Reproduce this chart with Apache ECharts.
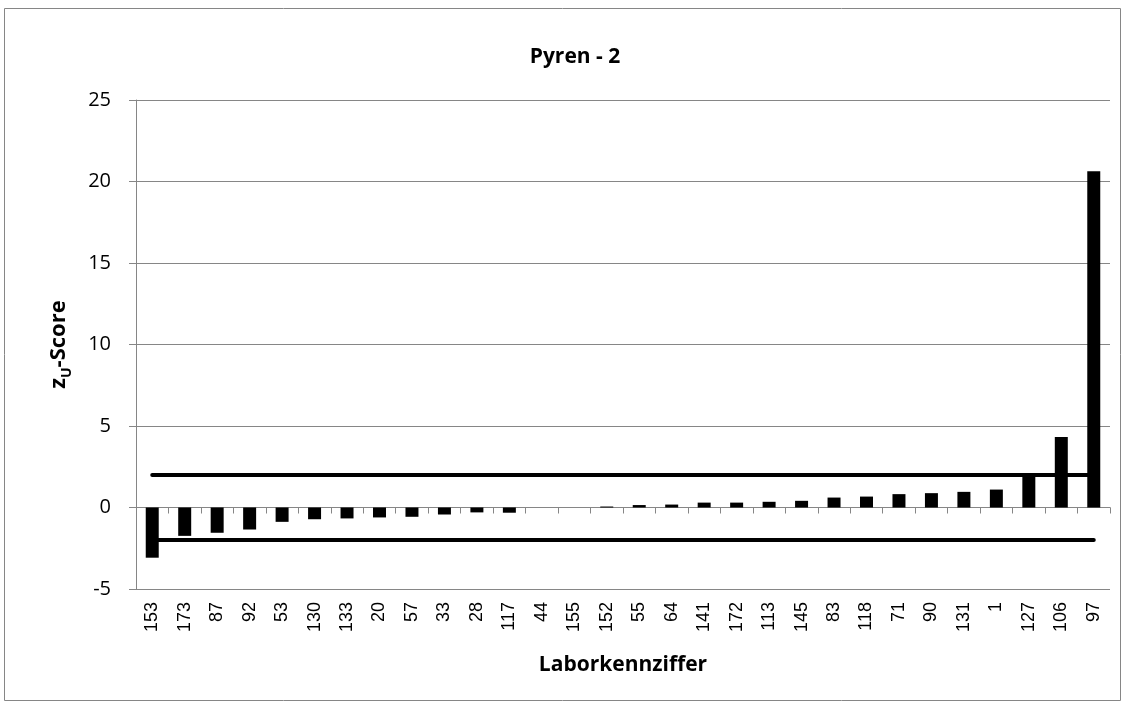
<!DOCTYPE html>
<html>
<head>
<meta charset="utf-8">
<script src="https://cdn.jsdelivr.net/npm/echarts@6/dist/echarts.min.js"></script>
<style>
html,body{margin:0;padding:0;background:#fff;}
#c{width:1128px;height:709px;}
</style>
</head>
<body>
<div id="c"></div>
<script>
var categories = ['153','173','87','92','53','130','133','20','57','33','28','117','44','155','152','55','64','141','172','113','145','83','118','71','90','131','1','127','106','97'];
var zScores = [-3.08,-1.74,-1.55,-1.35,-0.88,-0.72,-0.67,-0.61,-0.57,-0.43,-0.30,-0.32,0,0,0.06,0.15,0.18,0.30,0.30,0.35,0.41,0.61,0.67,0.82,0.88,0.96,1.10,1.98,4.32,20.63];
var upperLimit = [2,2,2,2,2,2,2,2,2,2,2,2,2,2,2,2,2,2,2,2,2,2,2,2,2,2,2,2,2,2];
var lowerLimit = [-2,-2,-2,-2,-2,-2,-2,-2,-2,-2,-2,-2,-2,-2,-2,-2,-2,-2,-2,-2,-2,-2,-2,-2,-2,-2,-2,-2,-2,-2];
var yTicks = {min: -5, max: 25, interval: 5};

var chart = echarts.init(document.getElementById('c'), null, {renderer: 'canvas'});
var gray = '#868686';
chart.setOption({
  animation: false,
  backgroundColor: '#fff',
  title: {
    text: 'Pyren - 2', left: 570, textAlign: 'center', top: 42,
    textStyle: {fontFamily: 'Open Sans', fontWeight: 'bold', fontSize: 21, color: '#000'}
  },
  graphic: [{
    type: 'rect', shape: {x: 4.5, y: 8.5, width: 1116, height: 692},
    style: {fill: 'none', stroke: gray, lineWidth: 1}, silent: true, z: -1
  }],
  grid: {left: 136, right: 18, top: 100, bottom: 120},
  xAxis: [{
    type: 'category', data: categories, boundaryGap: true,
    axisLine: {onZero: true, lineStyle: {color: gray, width: 1}},
    axisTick: {show: true, inside: false, length: 6, lineStyle: {color: gray}},
    axisLabel: {show: false},
    splitLine: {show: false}
  }, {
    type: 'category', data: categories, boundaryGap: true, position: 'bottom',
    axisLine: {show: false, onZero: false},
    axisTick: {show: false},
    axisLabel: {show: true, rotate: 90, margin: 13, interval: 0,
      fontFamily: 'Liberation Sans', fontSize: 18, color: '#000'},
    name: 'Laborkennziffer', nameLocation: 'middle', nameGap: 66,
    nameTextStyle: {fontFamily: 'Open Sans', fontWeight: 'bold', fontSize: 21, color: '#000'}
  }],
  yAxis: {
    type: 'value', min: yTicks.min, max: yTicks.max, interval: yTicks.interval,
    axisLine: {show: true, lineStyle: {color: gray}},
    axisTick: {show: true, length: 7, lineStyle: {color: gray}},
    axisLabel: {margin: 25, fontFamily: 'Open Sans', fontSize: 20, color: '#000'},
    splitLine: {show: true, lineStyle: {color: gray, width: 1}},
    name: '{a|z}{b|U}{a|-Score}', nameLocation: 'middle', nameGap: 62, nameRotate: 90,
    nameTextStyle: {
      rich: {
        a: {fontFamily: 'Open Sans', fontWeight: 'bold', fontSize: 22, color: '#000', lineHeight: 30, verticalAlign: 'middle'},
        b: {fontFamily: 'Open Sans', fontWeight: 'bold', fontSize: 14, color: '#000', lineHeight: 30, verticalAlign: 'bottom'}
      }
    }
  },
  series: [{
    type: 'bar', data: zScores, xAxisIndex: 0, barWidth: '40%',
    itemStyle: {color: '#000'}, z: 2
  }, {
    type: 'line', data: upperLimit, xAxisIndex: 0, symbol: 'none',
    lineStyle: {color: '#000', width: 4, cap: 'round'}, z: 3
  }, {
    type: 'line', data: lowerLimit, xAxisIndex: 0, symbol: 'none',
    lineStyle: {color: '#000', width: 4, cap: 'round'}, z: 3
  }]
});
</script>
</body>
</html>
